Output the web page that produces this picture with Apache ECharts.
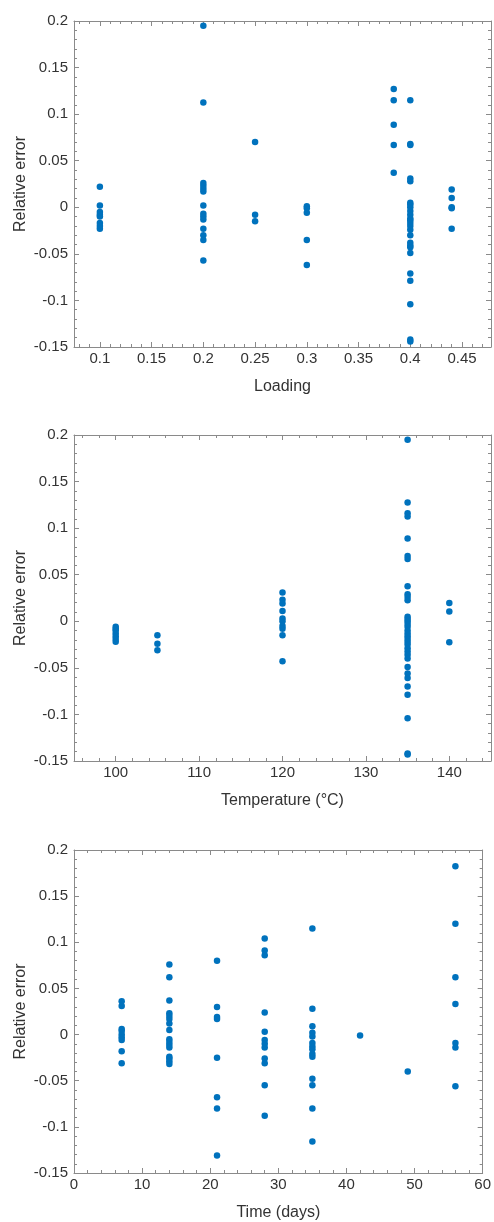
<!DOCTYPE html>
<html>
<head>
<meta charset="utf-8">
<script src="https://cdn.jsdelivr.net/npm/echarts@6/dist/echarts.min.js"></script>
<style>
html,body{margin:0;padding:0;background:#fff;}
#chart{width:494px;height:1222px;}
</style>
</head>
<body>
<div id="chart"></div>
<script>
// Panel 1: Loading vs relative error
const loadingX = [
  0.1,0.1,0.1,0.1,0.1,0.1,0.1,0.1,
  0.2,0.2,0.2,0.2,0.2,0.2,0.2,0.2,0.2,0.2,0.2,0.2,0.2,0.2,
  0.25,0.25,0.25,
  0.3,0.3,0.3,0.3,0.3,
  0.384,0.384,0.384,0.384,0.384,
  0.4,0.4,0.4,0.4,0.4,0.4,0.4,0.4,0.4,0.4,0.4,0.4,0.4,0.4,0.4,0.4,0.4,0.4,0.4,0.4,0.4,0.4,0.4,0.4,0.4,
  0.44,0.44,0.44,0.44,0.44
];
const loadingErr = [
  0.022,0.002,-0.005,-0.008,-0.010,-0.017,-0.020,-0.023,
  0.195,0.1125,0.026,0.023,0.020,0.017,0.002,-0.007,-0.010,-0.013,-0.023,-0.030,-0.035,-0.057,
  0.070,-0.008,-0.015,
  0.001,-0.001,-0.006,-0.035,-0.062,
  0.127,0.115,0.0885,0.067,0.037,
  0.115,0.068,0.067,0.031,0.028,0.005,0.003,0.000,-0.004,-0.008,-0.012,-0.014,-0.017,-0.020,-0.024,-0.030,-0.038,-0.041,-0.043,-0.049,-0.071,-0.079,-0.104,-0.142,-0.144,
  0.019,0.010,0.000,-0.001,-0.023
];

// Panel 2: Temperature vs relative error
const tempX = [
  100,100,100,100,100,100,100,
  105,105,105,
  120,120,120,120,120,120,120,120,120,120,
  135,135,135,135,135,135,135,135,135,135,135,135,135,135,135,135,135,135,135,135,135,135,135,135,135,135,135,135,135,135,135,135,135,135,
  140,140,140
];
const tempErr = [
  -0.006,-0.008,-0.010,-0.013,-0.016,-0.019,-0.022,
  -0.015,-0.024,-0.031,
  0.031,0.023,0.019,0.011,0.003,0.000,-0.005,-0.008,-0.015,-0.043,
  0.195,0.1275,0.116,0.1125,0.089,0.070,0.067,0.0375,0.029,0.026,0.0225,0.005,0.0025,0.000,-0.003,-0.006,-0.010,-0.013,-0.016,-0.019,-0.022,-0.025,-0.029,-0.0325,-0.036,-0.040,-0.049,-0.056,-0.061,-0.070,-0.079,-0.104,-0.142,-0.143,
  0.0196,0.0104,-0.0225
];

// Panel 3: Time vs relative error
const timeX = [
  7,7,7,7,7,7,7,7,7,
  14,14,14,14,14,14,14,14,14,14,14,14,14,14,14,14,
  21,21,21,21,21,21,21,21,
  28,28,28,28,28,28,28,28,28,28,28,28,
  35,35,35,35,35,35,35,35,35,35,35,35,35,35,
  42,
  49,
  56,56,56,56,56,56,56
];
const timeErr = [
  0.036,0.031,0.006,0.004,0.000,-0.003,-0.006,-0.018,-0.031,
  0.076,0.062,0.037,0.023,0.020,0.017,0.012,0.005,-0.005,-0.008,-0.011,-0.014,-0.024,-0.026,-0.029,-0.032,
  0.080,0.030,0.019,0.017,-0.025,-0.068,-0.080,-0.131,
  0.104,0.091,0.086,0.024,0.003,-0.006,-0.010,-0.014,-0.026,-0.031,-0.055,-0.088,
  0.115,0.028,0.009,0.002,-0.002,-0.009,-0.013,-0.016,-0.021,-0.024,-0.048,-0.055,-0.080,-0.116,
  -0.001,
  -0.040,
  0.1825,0.120,0.062,0.033,-0.009,-0.014,-0.056
];

// Axis settings
const xNames = ['Loading', 'Temperature (°C)', 'Time (days)'];
const xRanges = [[0.075, 0.478], [95, 145], [0, 60]];
const xMajor = [0.05, 10, 10];
const xMinor = [0.01, 2, 2];
const yRange = [-0.15, 0.2];
const yMajor = 0.05;
const yMinor = 0.01;
const yName = 'Relative error';

const FONT = 'Liberation Sans, Arial, Helvetica, sans-serif';
const LINE = '#8a8a8a';
const TEXT = '#333333';
const gridTops = [21, 435, 850];

const grids = gridTops.map(t => ({left: 74, top: t, width: 417, height: 326, containLabel: false}));

const xAxes = [], yAxes = [], series = [];
const panels = [[loadingX, loadingErr], [tempX, tempErr], [timeX, timeErr]];

function axisBase(grid, min, max, step, position, isMajor) {
  return {
    type: 'value', gridIndex: grid, position: position, min: min, max: max,
    minInterval: step, maxInterval: step, splitNumber: Math.round((max - min) / step),
    axisLine: {show: isMajor, onZero: false, lineStyle: {color: LINE, width: 1}},
    axisTick: {show: true, inside: true, length: isMajor ? 5 : 3, lineStyle: {color: LINE, width: 1}},
    axisLabel: {show: false},
    splitLine: {show: false},
    silent: true
  };
}

panels.forEach((p, i) => {
  const [x0, x1] = xRanges[i];
  const xb = axisBase(i, x0, x1, xMajor[i], 'bottom', true);
  const niceX = (i === 2);
  xb.axisLabel = {show: true, color: TEXT, fontSize: 15, fontFamily: FONT, margin: 4,
    showMinLabel: niceX, showMaxLabel: niceX};
  xb.name = xNames[i];
  xb.nameLocation = 'middle';
  xb.nameGap = 32;
  xb.nameMoveOverlap = false;
  xb.nameTextStyle = {color: TEXT, fontSize: 16, fontFamily: FONT};
  const xbIndex = xAxes.length;
  xAxes.push(xb);
  xAxes.push(axisBase(i, x0, x1, xMinor[i], 'bottom', false));
  xAxes.push(axisBase(i, x0, x1, xMajor[i], 'top', true));
  xAxes.push(axisBase(i, x0, x1, xMinor[i], 'top', false));

  const yl = axisBase(i, yRange[0], yRange[1], yMajor, 'left', true);
  yl.axisLabel = {show: true, color: TEXT, fontSize: 15, fontFamily: FONT, margin: 6,
    showMinLabel: true, showMaxLabel: true};
  yl.name = yName;
  yl.nameLocation = 'middle';
  yl.nameGap = 45;
  yl.nameMoveOverlap = false;
  yl.nameTextStyle = {color: TEXT, fontSize: 16, fontFamily: FONT};
  const ylIndex = yAxes.length;
  yAxes.push(yl);
  yAxes.push(axisBase(i, yRange[0], yRange[1], yMinor, 'left', false));
  yAxes.push(axisBase(i, yRange[0], yRange[1], yMajor, 'right', true));
  yAxes.push(axisBase(i, yRange[0], yRange[1], yMinor, 'right', false));

  series.push({
    type: 'scatter', xAxisIndex: xbIndex, yAxisIndex: ylIndex,
    symbol: 'circle', symbolSize: 6.5,
    itemStyle: {color: '#0072BD', opacity: 1},
    data: p[0].map((v, k) => [v, p[1][k]]),
    animation: false, silent: true
  });
});

const chart = echarts.init(document.getElementById('chart'), null, {renderer: 'canvas'});
chart.setOption({
  backgroundColor: '#ffffff',
  animation: false,
  grid: grids,
  xAxis: xAxes,
  yAxis: yAxes,
  series: series
});
</script>
</body>
</html>
